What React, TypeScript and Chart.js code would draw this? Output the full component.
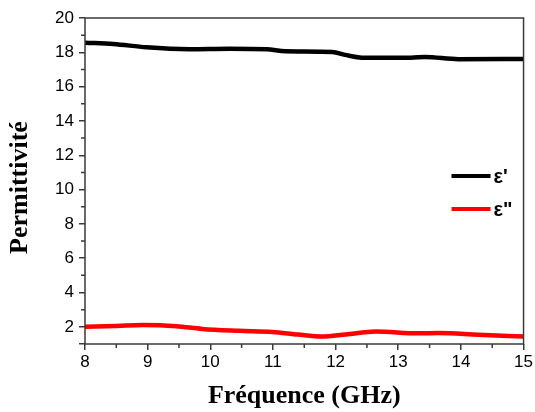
import React, { useEffect, useRef } from 'react';
import { Chart, registerables } from 'chart.js';

Chart.register(...registerables);

// ε' (real part)
const freqReal = [8, 8.45, 8.98, 9.67, 10.3, 10.9, 11.2, 11.95, 12.15, 12.42, 13.2, 13.43, 13.96, 15];
const epsReal = [18.56, 18.49, 18.29, 18.18, 18.21, 18.18, 18.06, 18.02, 17.85, 17.69, 17.69, 17.73, 17.6, 17.61];

// ε" (imaginary part)
const freqImag = [8, 8.5, 8.92, 9.46, 9.87, 10.46, 10.99, 11.4, 11.78, 12.16, 12.64, 13.32, 13.64, 14.28, 15];
const epsImag = [2.0, 2.05, 2.11, 2.04, 1.88, 1.77, 1.7, 1.55, 1.44, 1.56, 1.73, 1.62, 1.64, 1.54, 1.44];

const seriesLabels = ["ε'", 'ε"'];
const seriesColors = ['#000000', '#ff0000'];

const xMinorTicks = [8.5, 9.5, 10.5, 11.5, 12.5, 13.5, 14.5];
const yMinorTicks = [3, 5, 7, 9, 11, 13, 15, 17, 19];

const AXIS_COLOR = '#3a3a3a';

const decorPlugin = {
  id: 'decor',
  afterDraw(chart: any) {
    const { ctx, chartArea: a, scales } = chart;
    const x = scales.x;
    const y = scales.y;
    ctx.save();
    ctx.strokeStyle = AXIS_COLOR;
    ctx.lineWidth = 1.5;
    ctx.strokeRect(a.left, a.top, a.right - a.left, a.bottom - a.top);
    ctx.beginPath();
    for (const v of yMinorTicks) {
      const py = y.getPixelForValue(v);
      ctx.moveTo(a.left - 4, py);
      ctx.lineTo(a.left, py);
    }
    for (const v of xMinorTicks) {
      const px = x.getPixelForValue(v);
      ctx.moveTo(px, a.bottom);
      ctx.lineTo(px, a.bottom + 4);
    }
    ctx.stroke();

    // legend inside plot area
    const lx0 = a.right - 72;
    const lx1 = a.right - 33;
    const rows = [a.top + 158, a.top + 191];
    ctx.font = 'bold 20px "Liberation Sans", Arial, sans-serif';
    ctx.textBaseline = 'middle';
    ctx.textAlign = 'left';
    chart.data.datasets.forEach((ds: any, i: number) => {
      const ry = rows[i];
      ctx.strokeStyle = ds.borderColor;
      ctx.lineWidth = 4;
      ctx.beginPath();
      ctx.moveTo(lx0, ry);
      ctx.lineTo(lx1, ry);
      ctx.stroke();
      ctx.fillStyle = '#000';
      ctx.fillText(ds.label, lx1 + 3, ry + 1);
    });
    ctx.restore();
  },
};

export default function App() {
  const ref = useRef<HTMLCanvasElement | null>(null);

  useEffect(() => {
    document.body.style.margin = '0';
    const canvas = ref.current;
    if (!canvas) return;
    const tickFont = { family: '"Liberation Sans", Arial, sans-serif', size: 17 };
    const titleFont = { family: '"Liberation Serif", "Times New Roman", serif', size: 26, weight: 'bold' as const };
    const chart = new Chart(canvas, {
      type: 'line',
      data: {
        datasets: [
          {
            label: seriesLabels[0],
            data: freqReal.map((f, i) => ({ x: f, y: epsReal[i] })),
            borderColor: seriesColors[0],
            borderWidth: 4.5,
            pointRadius: 0,
            tension: 0.4,
            cubicInterpolationMode: 'monotone',
          },
          {
            label: seriesLabels[1],
            data: freqImag.map((f, i) => ({ x: f, y: epsImag[i] })),
            borderColor: seriesColors[1],
            borderWidth: 4.5,
            pointRadius: 0,
            tension: 0.4,
            cubicInterpolationMode: 'monotone',
          },
        ],
      },
      options: {
        responsive: false,
        animation: false,
        devicePixelRatio: 1,
        layout: { padding: { top: 18, right: 10, left: 0, bottom: 0 } },
        plugins: {
          legend: { display: false },
          tooltip: { enabled: false },
        },
        scales: {
          x: {
            type: 'linear',
            min: 8,
            max: 15,
            ticks: { stepSize: 1, color: '#000', font: tickFont, padding: 2, maxRotation: 0 },
            grid: { drawOnChartArea: false, tickLength: 6, color: AXIS_COLOR, lineWidth: 1.5 },
            border: { display: false },
            title: { display: true, text: 'Fréquence (GHz)', color: '#000', font: titleFont, padding: { top: 0, bottom: 0 } },
            afterFit: (s: any) => { s.height = 68; },
          },
          y: {
            type: 'linear',
            min: 1,
            max: 20,
            ticks: {
              stepSize: 2,
              color: '#000',
              font: tickFont,
              padding: 5,
              callback: (v: any) => (v === 1 ? '' : String(v)),
            },
            grid: { drawOnChartArea: false, tickLength: 6, color: AXIS_COLOR, lineWidth: 1.5 },
            border: { display: false },
            title: { display: true, text: 'Permittivité  ', color: '#000', font: titleFont, padding: { top: 5, bottom: 0 } },
            afterFit: (s: any) => { s.width = 85; },
          },
        },
      },
      plugins: [decorPlugin],
    });
    return () => chart.destroy();
  }, []);

  return <canvas ref={ref} width={535} height={412} style={{ display: 'block' }} />;
}
